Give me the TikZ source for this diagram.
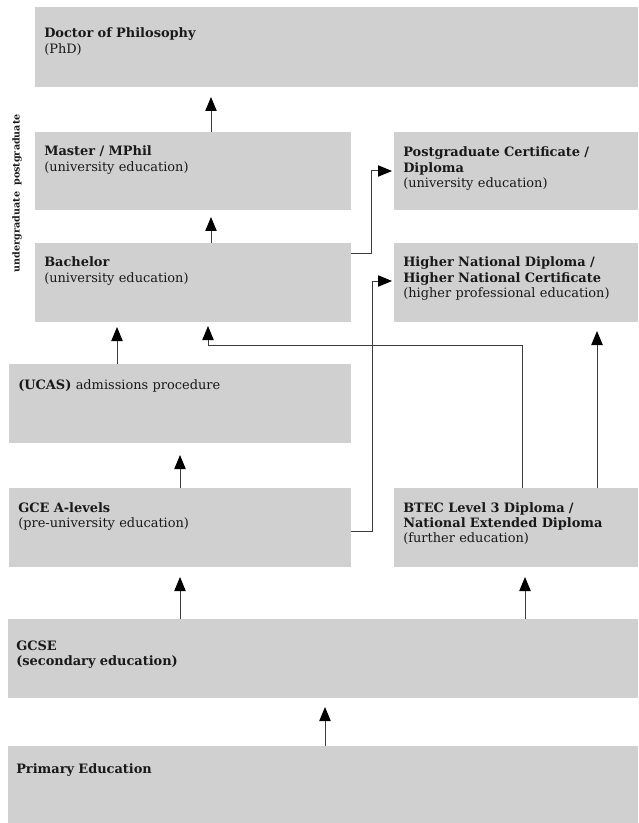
\documentclass[tikz,border=0pt]{standalone}
\usepackage{fontspec}
\setmainfont{DejaVu Serif}
\usetikzlibrary{arrows.meta}
\definecolor{boxgray}{RGB}{208,208,208}
\definecolor{linegray}{RGB}{60,60,60}
\definecolor{txtcol}{RGB}{25,25,25}
\begin{document}
\begin{tikzpicture}[x=0.75pt,y=-0.75pt,
  box/.style={fill=boxgray, draw=none, inner sep=0pt, outer sep=0pt, anchor=north west},
  txt/.style={anchor=base west, inner sep=0pt, align=left, text width=240pt, text=txtcol,
    font=\fontsize{9.7}{11.4}\selectfont},
  side/.style={rotate=90, inner sep=0pt, text=txtcol, font=\fontsize{7.2}{9}\selectfont\bfseries},
  conn/.style={draw=linegray, line width=0.75pt,
    -{Triangle[length=10.5pt,width=8.5pt,color=black,fill=black]}},
]
\useasboundingbox (0,0) rectangle (638,823);
% boxes
\node[box, minimum width={603*0.75pt}, minimum height={80*0.75pt}] (phd) at (35,7) {};
\node[box, minimum width={316*0.75pt}, minimum height={78*0.75pt}] (master) at (35,132) {};
\node[box, minimum width={244*0.75pt}, minimum height={78*0.75pt}] (pgc) at (394,132) {};
\node[box, minimum width={316*0.75pt}, minimum height={79*0.75pt}] (bach) at (35,243) {};
\node[box, minimum width={244*0.75pt}, minimum height={79*0.75pt}] (hnd) at (394,243) {};
\node[box, minimum width={342*0.75pt}, minimum height={79*0.75pt}] (ucas) at (9,364) {};
\node[box, minimum width={342*0.75pt}, minimum height={79*0.75pt}] (gce) at (9,488) {};
\node[box, minimum width={244*0.75pt}, minimum height={79*0.75pt}] (btec) at (394,488) {};
\node[box, minimum width={630*0.75pt}, minimum height={79*0.75pt}] (gcse) at (8,619) {};
\node[box, minimum width={630*0.75pt}, minimum height={77*0.75pt}] (prim) at (8,746) {};
% texts
\node[txt] (tphd) at (44,38) {\textbf{Doctor of Philosophy}\\(PhD)};
\node[txt] (tmaster) at (44,156) {\textbf{Master / MPhil}\\(university education)};
\node[txt] (tpgc) at (403,157) {\textbf{Postgraduate Certificate /}\\\textbf{Diploma}\\(university education)};
\node[txt] (tbach) at (44,267) {\textbf{Bachelor}\\(university education)};
\node[txt] (thnd) at (403,267) {\textbf{Higher National Diploma /}\\\textbf{Higher National Certificate}\\(higher professional education)};
\node[txt] (tucas) at (18,389) {\textbf{(UCAS)} admissions procedure};
\node[txt] (tgce) at (18,512) {\textbf{GCE A-levels}\\(pre-university education)};
\node[txt] (tbtec) at (403,512) {\textbf{BTEC Level 3 Diploma /}\\\textbf{National Extended Diploma}\\(further education)};
\node[txt] (tgcse) at (16,650) {\textbf{GCSE}\\\textbf{(secondary education)}};
\node[txt] (tprim) at (16,773) {\textbf{Primary Education}};
% side labels
\node[side] (lpg) at (17,150) {postgraduate};
\node[side] (lug) at (17,232) {undergraduate};
% arrow tips / bends
\coordinate (a1) at (211,97);
\coordinate (a2) at (211,217);
\coordinate (a3) at (117,327);
\coordinate (a4) at (208,326);
\coordinate (b4) at (522,345);
\coordinate (a5) at (392,171);
\coordinate (b5) at (371,254);
\coordinate (a6) at (392,281);
\coordinate (b6) at (372,531);
\coordinate (a7) at (597,331);
\coordinate (a8) at (180,455);
\coordinate (a9) at (180,577);
\coordinate (a10) at (525,577);
\coordinate (a11) at (325,707);
% connectors
\draw[conn] (a1 |- master.north) -- (a1);
\draw[conn] (a2 |- bach.north) -- (a2);
\draw[conn] (a3 |- ucas.north) -- (a3);
\draw[conn] (b4 |- btec.north) -- (b4) -| (a4);
\draw[conn] (bach.east |- b5) -| (b5 |- a5) -- (a5);
\draw[conn] (gce.east |- b6) -| (b6 |- a6) -- (a6);
\draw[conn] (a7 |- btec.north) -- (a7);
\draw[conn] (a8 |- gce.north) -- (a8);
\draw[conn] (a9 |- gcse.north) -- (a9);
\draw[conn] (a10 |- gcse.north) -- (a10);
\draw[conn] (a11 |- prim.north) -- (a11);
\end{tikzpicture}
\end{document}
